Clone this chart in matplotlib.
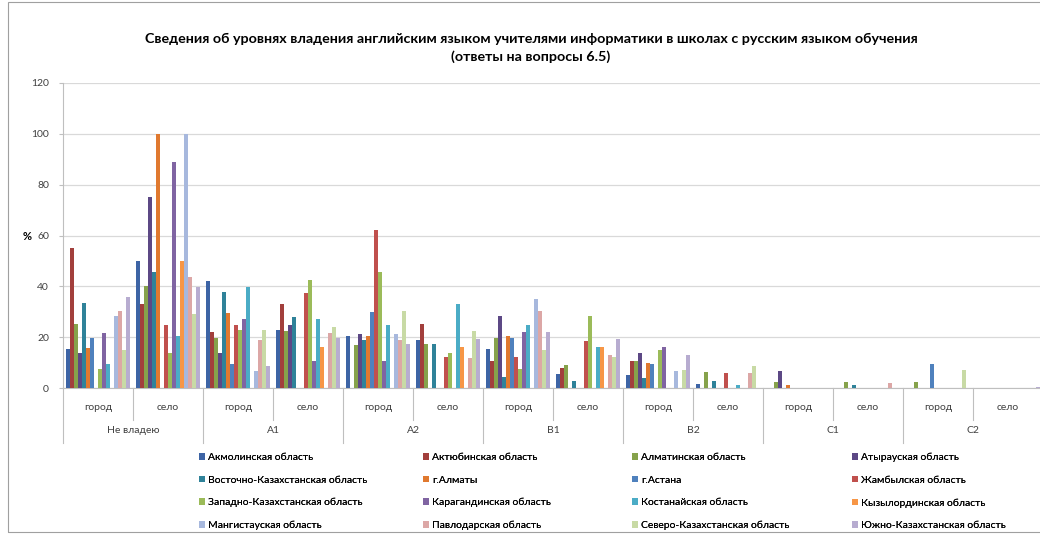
import numpy as np
import matplotlib
matplotlib.use("Agg")
import matplotlib.pyplot as plt
from matplotlib.patches import Rectangle

plt.rcParams['font.family'] = ['Lato', 'DejaVu Sans']

# категории оси X (два уровня)
levels = ["Не владею", "A1", "A2", "B1", "B2", "C1", "C2"]
places = ["город", "село"]

regions = ["Акмолинская область", "Актюбинская область", "Алматинская область",
           "Атырауская область", "Восточно-Казахстанская область", "г.Алматы",
           "г.Астана", "Жамбылская область", "Западно-Казахстанская область",
           "Карагандинская область", "Костанайская область", "Кызылординская область",
           "Мангистауская область", "Павлодарская область",
           "Северо-Казахстанская область", "Южно-Казахстанская область"]

# значения, % (по 14 подкатегориям: город/село для каждого уровня)
akmola = [15.5, 50, 42, 23, 20.5, 19, 15.5, 5.5, 5, 1.4, 0, 0, 0, 0]
aktobe = [55, 33, 22, 33, 0, 25, 10.7, 7.8, 10.7, 0, 0, 0, 0, 0]
almaty_obl = [25.3, 40.3, 19.6, 22.5, 17, 17.3, 19.5, 9.1, 10.7, 6.2, 2.2, 2.2, 2.2, 0]
atyrau = [13.7, 75, 13.7, 24.8, 21.1, 0, 28.5, 0, 13.8, 0, 6.6, 0, 0, 0]
vko = [33.3, 45.5, 37.8, 27.9, 18.7, 17.3, 4.2, 2.8, 4.1, 2.9, 0, 1.2, 0, 0]
almaty = [15.8, 100, 29.6, 0, 20.6, 0, 20.4, 0, 10, 0, 1.2, 0, 0, 0]
astana = [19.5, 0, 9.4, 0, 30, 0, 19.5, 0, 9.4, 0, 0, 0, 9.4, 0]
zhambyl = [0, 24.8, 24.6, 37.2, 62.3, 12.3, 12.1, 18.6, 0, 5.8, 0, 0, 0, 0]
zko = [7.4, 13.7, 22.7, 42.6, 45.7, 13.7, 7.4, 28.5, 14.9, 0, 0, 0, 0, 0]
karaganda = [21.7, 88.8, 27.3, 10.8, 10.7, 0, 22, 0, 16.2, 0, 0, 0, 0, 0]
kostanay = [9.4, 20.3, 39.7, 27.3, 24.8, 33.1, 24.8, 16.1, 0, 1.3, 0, 0, 0, 0]
kyzylorda = [0, 50, 0, 16.3, 0, 16.2, 0, 16.1, 0, 0, 0, 0, 0, 0]
mangistau = [28.3, 100, 6.5, 0, 21.1, 0, 35.2, 0, 6.6, 0, 0, 0, 0, 0]
pavlodar = [30.4, 43.7, 19, 21.7, 18.7, 11.7, 30.3, 13, 0, 5.8, 0, 2, 0, 0]
sko = [15, 29.1, 22.7, 24.1, 30.4, 22.4, 15, 12.1, 7.2, 8.8, 0, 0, 7.1, 0]
yuko = [35.8, 39.7, 8.7, 19.6, 17.5, 19.2, 22.1, 19.2, 13, 0, 0, 0, 0, 0.5]

values = [akmola, aktobe, almaty_obl, atyrau, vko, almaty, astana, zhambyl,
          zko, karaganda, kostanay, kyzylorda, mangistau, pavlodar, sko, yuko]

colors = ["#3d64a5", "#a23f3c", "#86a24b", "#5c4885", "#2f8299", "#e0792f",
          "#4f81bd", "#c0504d", "#9bbb59", "#8064a2", "#4bacc6", "#f79646",
          "#a7b8dd", "#dca7a6", "#c8daa5", "#b7acd0"]

fig = plt.figure(figsize=(10.4, 5.34), dpi=100)
ax = fig.add_axes([63 / 1040, 1 - 388 / 534, 980 / 1040, 305 / 534])

n = len(regions)
ngroups = len(levels) * len(places)
w = 0.057
x = np.arange(ngroups)
for i in range(n):
    ax.bar(x + 0.5 + (i - (n - 1) / 2) * w, values[i], width=w,
           color=colors[i], label=regions[i], zorder=3, linewidth=0)

ax.set_xlim(0, ngroups)
ax.set_ylim(0, 120)
ax.set_yticks(np.arange(0, 121, 20))
ax.tick_params(axis='y', labelsize=7.5, colors='#404040', length=3, color='#bfbfbf', pad=7)
ax.grid(axis='y', color='#d9d9d9', linewidth=0.9, zorder=0)
for s in ['top', 'right']:
    ax.spines[s].set_visible(False)
ax.spines['left'].set_color('#bfbfbf')
ax.spines['bottom'].set_color('#bfbfbf')

# двухуровневая ось категорий
ax.set_xticks([])
tr = ax.get_xaxis_transform()
for g in range(ngroups):
    ax.text(g + 0.5, -0.065, places[g % 2], transform=tr, ha='center', va='center',
            fontsize=7.5, color='#404040')
for k, lev in enumerate(levels):
    ax.text(2 * k + 1, -0.14, lev, transform=tr, ha='center', va='center',
            fontsize=7.5, color='#404040')
for g in range(ngroups + 1):
    depth = -0.18 if g % 2 == 0 else -0.105
    ax.plot([g, g], [0, depth], transform=tr, color='#bfbfbf', lw=0.8, clip_on=False)

fig.text(27 / 1040, 1 - 236 / 534, "%", fontsize=8, fontweight='bold', ha='center', va='center')

fig.suptitle("Сведения об уровнях владения английским языком учителями информатики в школах с русским языком обучения\n(ответы на вопросы 6.5)",
             x=531 / 1040, y=1 - 33 / 534, fontsize=10.3, fontweight='bold', va='top', linespacing=1.48)

# легенда: четыре колонки, заполняются по строкам
handles, labels = ax.get_legend_handles_labels()
col_x = [199, 423, 632, 852]
for c in range(4):
    idx = list(range(c, n, 4))
    leg = fig.legend([handles[i] for i in idx], [labels[i] for i in idx],
                     loc='upper left', bbox_to_anchor=(col_x[c] / 1040, 1 - 453 / 534),
                     frameon=False, fontsize=7.5, handlelength=0.6, handleheight=0.6,
                     handletextpad=0.3, labelspacing=1.3, borderaxespad=0, borderpad=0)
    fig.add_artist(leg)

fig.patches.append(Rectangle((8 / 1040, 2 / 534), 1.1, 1 - 4 / 534, transform=fig.transFigure,
                             fill=False, edgecolor='#a0a0a0', lw=0.8))

fig.savefig("out.png", dpi=100)
